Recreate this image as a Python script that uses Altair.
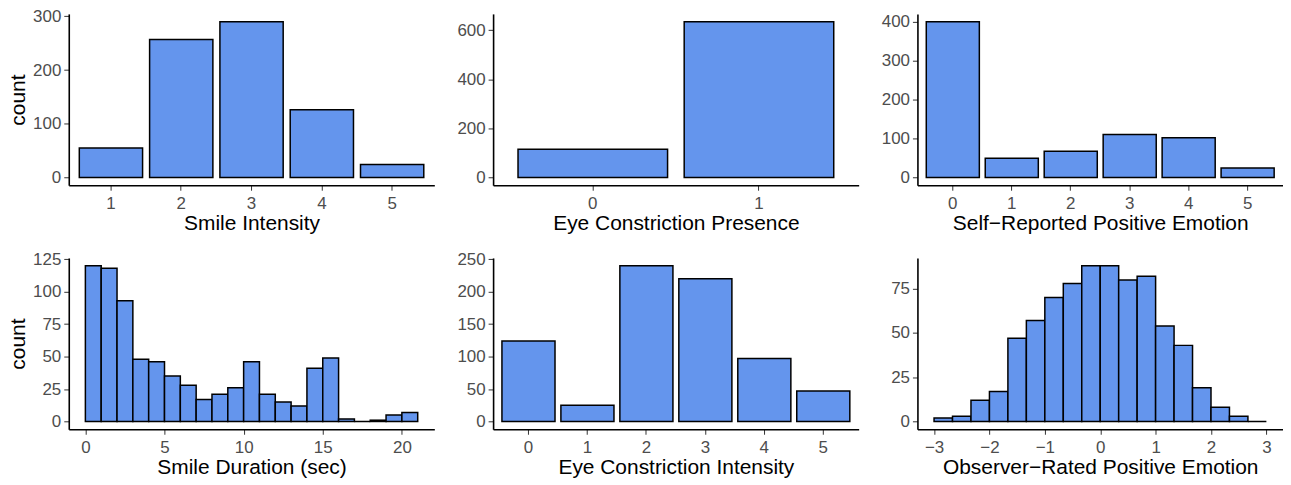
import altair as alt
import pandas as pd

FILL = "#6495ED"

# ---- data ----
smile_int_cat = [1, 2, 3, 4, 5]
smile_int_cnt = [55, 257, 290, 126, 24]

eye_pres_cat = [0, 1]
eye_pres_cnt = [115, 634]

self_rep_cat = [0, 1, 2, 3, 4, 5]
self_rep_cnt = [400, 49, 67, 110, 102, 24]

dur_edges = [0, 1, 2, 3, 4, 5, 6, 7, 8, 9, 10, 11, 12, 13, 14, 15, 16, 17, 18, 19, 20, 21]
dur_cnt = [120, 118, 93, 48, 46, 35, 28, 17, 21, 26, 46, 21, 15, 12, 41, 49, 2, 0, 1, 5, 7]
dur_ticks = [0, 5, 10, 15, 20]

eye_int_cat = [0, 1, 2, 3, 4, 5]
eye_int_cnt = [124, 25, 240, 220, 97, 47]

obs_edges = [-3, -8/3, -7/3, -2, -5/3, -4/3, -1, -2/3, -1/3, 0, 1/3, 2/3, 1, 4/3, 5/3, 2, 7/3, 8/3, 3]
obs_cnt = [2, 3, 12, 17, 47, 57, 70, 78, 88, 88, 80, 82, 54, 43, 19, 8, 3, 0]
obs_ticks = [-3, -2, -1, 0, 1, 2, 3]

W, H = 367, 172


def yenc(cnts, ytitle, yvals):
    m = max(cnts)
    kw = dict(
        scale=alt.Scale(domain=[-0.05 * m, 1.05 * m], nice=False, zero=False),
        axis=alt.Axis(values=yvals, labelPadding=3, minExtent=35, maxExtent=35, titlePadding=5),
    )
    if ytitle:
        return alt.Y("n:Q", title=ytitle, **kw)
    return alt.Y("n:Q", title=None, **kw)


def discrete(cats, cnts, xtitle, ytitle, yvals):
    df = pd.DataFrame({"v": cats, "n": cnts})
    return alt.Chart(df).mark_bar(fill=FILL, stroke="black", strokeWidth=1.5).encode(
        x=alt.X("v:O", title=xtitle,
                scale=alt.Scale(paddingInner=0.1, paddingOuter=0.15),
                axis=alt.Axis(labelAngle=0, labelPadding=5, titlePadding=1)),
        y=yenc(cnts, ytitle, yvals),
        y2=alt.datum(0),
    ).properties(width=W, height=H)


def hist(edges, cnts, xtitle, ytitle, yvals, xvals):
    df = pd.DataFrame({"lo": edges[:-1], "hi": edges[1:], "n": cnts})
    lo, hi = edges[0], edges[-1]
    r = hi - lo
    return alt.Chart(df).mark_bar(fill=FILL, stroke="black", strokeWidth=1.5).encode(
        x=alt.X("lo:Q", title=xtitle,
                scale=alt.Scale(domain=[lo - 0.05 * r, hi + 0.05 * r], nice=False, zero=False),
                axis=alt.Axis(values=xvals, labelFlush=False, labelPadding=5, titlePadding=1)),
        x2="hi:Q",
        y=yenc(cnts, ytitle, yvals),
        y2=alt.datum(0),
    ).properties(width=W, height=H)


p1 = discrete(smile_int_cat, smile_int_cnt, "Smile Intensity", "count", [0, 100, 200, 300])
p2 = discrete(eye_pres_cat, eye_pres_cnt, "Eye Constriction Presence", None, [0, 200, 400, 600])
p3 = discrete(self_rep_cat, self_rep_cnt, "Self\u2212Reported Positive Emotion", None, [0, 100, 200, 300, 400])
p4 = hist(dur_edges, dur_cnt, "Smile Duration (sec)", "count", [0, 25, 50, 75, 100, 125], dur_ticks)
p5 = discrete(eye_int_cat, eye_int_cnt, "Eye Constriction Intensity", None, [0, 50, 100, 150, 200, 250])
p6 = hist(obs_edges, obs_cnt, "Observer\u2212Rated Positive Emotion", None, [0, 25, 50, 75], obs_ticks)

chart = alt.concat(
    p1, p2, p3, p4, p5, p6,
    columns=3,
    spacing={"row": 73, "column": 59},
    bounds="flush",
).properties(
    padding={"left": 0, "top": -2, "right": 0, "bottom": 0}
).configure(
    font="Liberation Sans"
).configure_view(
    stroke=None
).configure_axis(
    grid=False,
    domainColor="black",
    domainWidth=1.6,
    tickColor="#333333",
    tickWidth=1,
    tickSize=5,
    labelFont="Liberation Sans",
    labelFontSize=17,
    labelColor="#4D4D4D",
    titleFont="Liberation Sans",
    titleFontSize=21,
    titleFontWeight="normal",
    titleColor="black",
)

chart.save("out.html", embed_options={"renderer": "svg", "actions": False})
